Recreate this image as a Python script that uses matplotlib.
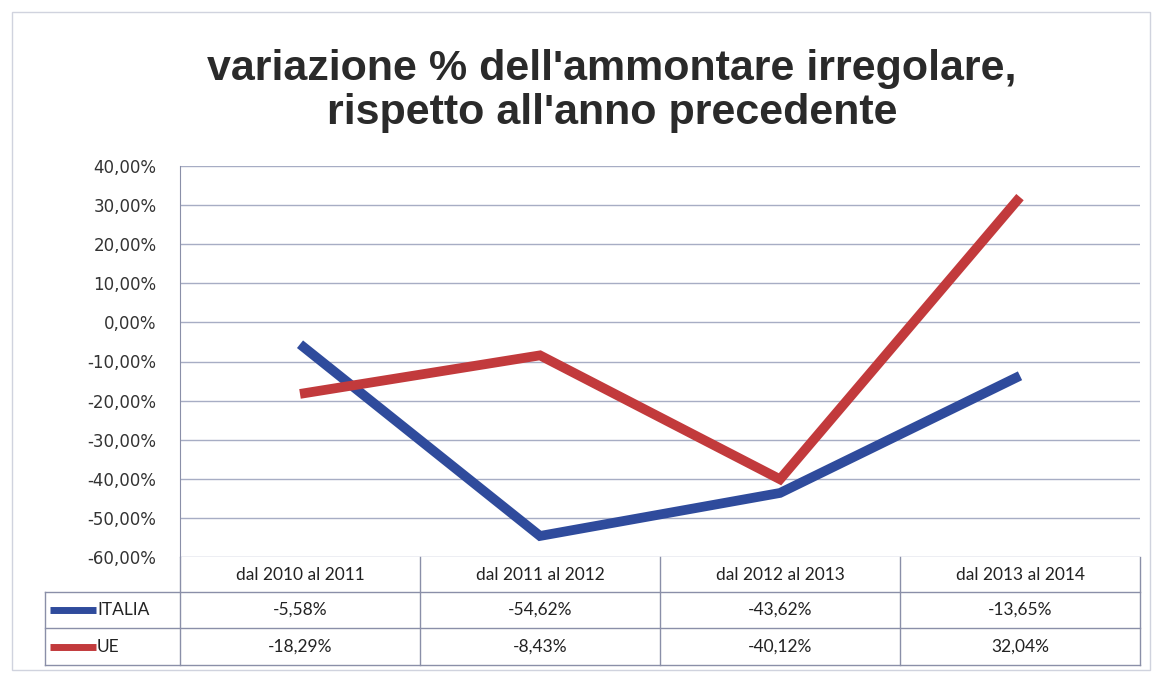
import numpy as np
import matplotlib.pyplot as plt
from matplotlib.ticker import FuncFormatter

categorie = ['dal 2010 al 2011', 'dal 2011 al 2012', 'dal 2012 al 2013', 'dal 2013 al 2014']
serie = ['ITALIA', 'UE']
italia = [-5.58, -54.62, -43.62, -13.65]
ue = [-18.29, -8.43, -40.12, 32.04]
colori = ['#2f4b9c', '#c23a3c']

W, H = 1155, 674
fig = plt.figure(figsize=(W / 100, H / 100), dpi=100)
fig.patch.set_facecolor('white')

def fx(px):
    return px / W

def fy(py):
    return 1 - py / H

# plot area in pixel coords
L, R, T, B = 180, 1140, 166, 557
ax = fig.add_axes([fx(L), fy(B), fx(R - L), (B - T) / H])
x = np.arange(len(categorie))
for vals, col in zip([italia, ue], colori):
    ax.plot(x, vals, color=col, lw=7, solid_capstyle='butt', solid_joinstyle='miter')

ax.set_xlim(-0.5, 3.5)
ax.set_ylim(-60, 40)
ax.set_yticks(np.arange(-60, 41, 10))
ax.yaxis.set_major_formatter(FuncFormatter(lambda v, p: f'{v:.2f}%'.replace('.', ',')))
ax.set_xticks([])
ax.grid(axis='y', color='#a7adc4', lw=1)
ax.set_axisbelow(True)
for s in ['top', 'right', 'bottom']:
    ax.spines[s].set_visible(False)
ax.spines['left'].set_color('#8a8fa8')
ax.tick_params(axis='y', length=0, pad=17, labelsize=12, labelcolor='#333333')
for lab in ax.get_yticklabels():
    lab.set_fontfamily('DejaVu Sans')

fig.text(fx(612), fy(91), "variazione % dell'ammontare irregolare,\nrispetto all'anno precedente",
         ha='center', va='center', fontsize=31, fontweight='bold',
         family='Liberation Sans', color='#2a2a2a', linespacing=1.12)

# data table under the chart
rows_y = [557, 592, 628, 665]
col_x = [L + i * (R - L) / 4 for i in range(5)]
lc = '#8a8fa8'
def hline(y, x0, x1):
    fig.add_artist(plt.Line2D([fx(x0), fx(x1)], [fy(y), fy(y)], color=lc, lw=1))
def vline(xp, y0, y1):
    fig.add_artist(plt.Line2D([fx(xp), fx(xp)], [fy(y0), fy(y1)], color=lc, lw=1))

hline(rows_y[1], 45, R)
hline(rows_y[2], 45, R)
hline(rows_y[3], 45, R)
vline(45, rows_y[1], rows_y[3])
for xp in col_x:
    vline(xp, rows_y[0], rows_y[3])

fs = 12.5
for i, c in enumerate(categorie):
    fig.text(fx((col_x[i] + col_x[i + 1]) / 2), fy((rows_y[0] + rows_y[1]) / 2 + 1), c,
             ha='center', va='center', fontsize=fs, family='Lato', color='#222222')

for r, (nome, vals, col) in enumerate(zip(serie, [italia, ue], colori)):
    yc = fy((rows_y[r + 1] + rows_y[r + 2]) / 2)
    fig.add_artist(plt.Line2D([fx(50), fx(96)], [yc, yc], color=col, lw=5,
                              solid_capstyle='butt'))
    fig.text(fx(97), yc, nome, ha='left', va='center', fontsize=fs,
             family='Lato', color='#222222')
    for i, v in enumerate(vals):
        fig.text(fx((col_x[i] + col_x[i + 1]) / 2), yc, f'{v:.2f}%'.replace('.', ','),
                 ha='center', va='center', fontsize=fs, family='Lato', color='#222222')

# outer frame of the chart
fig.add_artist(plt.Rectangle((fx(12), fy(670)), fx(1150 - 12), (670 - 12) / H,
                             fill=False, ec='#d0d3de', lw=1))

fig.savefig('out.png', dpi=100, facecolor='white')
